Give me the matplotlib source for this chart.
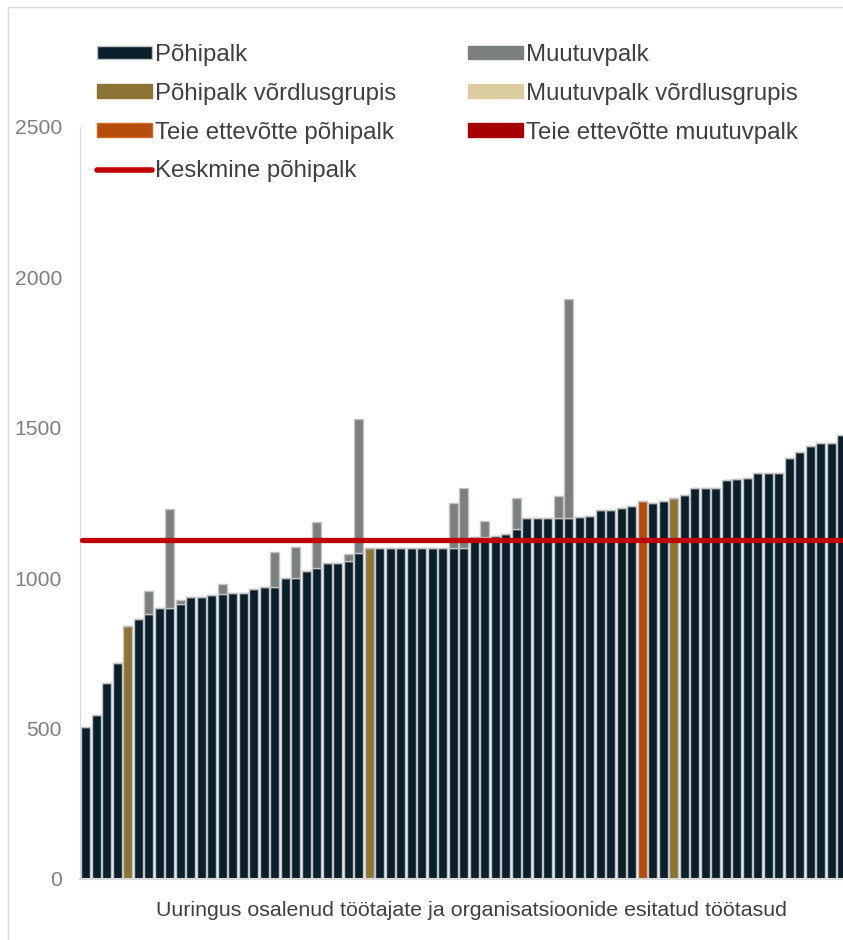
import matplotlib.pyplot as plt
from matplotlib.lines import Line2D
from matplotlib.patches import Patch, Rectangle
import numpy as np

# põhipalk per vastaja (sorted), muutuvpalk on top of it
base_pay = [505, 545, 650, 717, 842, 864, 880, 902, 902, 914,
            936, 936, 944, 946, 950, 950, 965, 972, 972, 1000,
            1000, 1024, 1035, 1052, 1052, 1058, 1085, 1100, 1100, 1100,
            1100, 1100, 1100, 1100, 1100, 1100, 1100, 1138, 1138, 1141,
            1146, 1163, 1200, 1200, 1200, 1200, 1200, 1203, 1206, 1227,
            1227, 1232, 1239, 1256, 1251, 1258, 1268, 1275, 1300, 1300,
            1300, 1325, 1331, 1333, 1351, 1351, 1351, 1401, 1421, 1441,
            1448, 1451, 1476]
variable_pay = [0, 0, 0, 0, 0, 0, 77, 0, 327, 13,
                0, 0, 0, 35, 0, 0, 0, 0, 116, 0,
                103, 0, 151, 0, 0, 21, 443, 0, 0, 0,
                0, 0, 0, 0, 0, 150, 200, 0, 51, 0,
                0, 105, 0, 0, 0, 73, 728, 0, 0, 0,
                0, 0, 0, 0, 0, 0, 0, 0, 0, 0,
                0, 0, 0, 0, 0, 0, 0, 0, 0, 0,
                0, 0, 0]
# which bars belong to comparison group / your company
comparison_group = [4, 27, 56]
own_company = [53]
average_base = 1127

C_BASE = "#0a1f2c"
C_VAR = "#7b7f80"
C_CMP = "#8c7434"
C_CMP_VAR = "#dccda0"
C_OWN = "#b64c0b"
C_OWN_VAR = "#a60000"
C_AVG = "#c00000"
C_EDGE = "#c3c3c3"

plt.rcParams['font.family'] = ['Liberation Sans', 'DejaVu Sans']

fig = plt.figure(figsize=(8.43, 9.4), dpi=100)
ax = fig.add_axes([80 / 843, 61 / 940, 763 / 843, 752 / 940])

x = np.arange(len(base_pay))
colors = []
for i in range(len(base_pay)):
    if i in comparison_group:
        colors.append(C_CMP)
    elif i in own_company:
        colors.append(C_OWN)
    else:
        colors.append(C_BASE)

ax.bar(x, base_pay, width=0.86, color=colors, edgecolor=C_EDGE, linewidth=1.0, zorder=2)
ax.bar(x, variable_pay, bottom=base_pay, width=0.86, color=C_VAR,
       edgecolor=C_EDGE, linewidth=1.0, zorder=2)
ax.plot([-0.3, len(base_pay) + 1], [average_base, average_base], color=C_AVG,
        linewidth=3.8, solid_capstyle="round", zorder=3)

ax.set_xlim(-0.535, 72.13)
ax.set_ylim(0, 2500)
ax.set_yticks([0, 500, 1000, 1500, 2000, 2500])
ax.set_xticks([])
ax.tick_params(axis="y", length=0, pad=13, labelsize=15.2, labelcolor="#7f7f7f")
for s in ["top", "right"]:
    ax.spines[s].set_visible(False)
ax.spines["left"].set_color("#d9d9d9")
ax.spines["bottom"].set_color("#d9d9d9")
ax.spines["bottom"].set_linewidth(1.5)

fig.text(471 / 843, 1 - 910 / 940, "Uuringus osalenud töötajate ja organisatsioonide esitatud töötasud",
         ha="center", va="center", fontsize=15.4, color="#404040")

handles = [
    Patch(facecolor=C_BASE, edgecolor=C_EDGE, label="Põhipalk"),
    Patch(facecolor=C_CMP, edgecolor=C_CMP, label="Põhipalk võrdlusgrupis"),
    Patch(facecolor=C_OWN, edgecolor="#d0661e", label="Teie ettevõtte põhipalk"),
    Line2D([0], [0], color=C_AVG, linewidth=4, solid_capstyle="round", label="Keskmine põhipalk"),
    Patch(facecolor=C_VAR, edgecolor=C_VAR, label="Muutuvpalk"),
    Patch(facecolor=C_CMP_VAR, edgecolor=C_CMP_VAR, label="Muutuvpalk võrdlusgrupis"),
    Patch(facecolor=C_OWN_VAR, edgecolor=C_OWN_VAR, label="Teie ettevõtte muutuvpalk"),
]
leg = fig.legend(handles=handles, ncol=2, loc="upper left",
                 bbox_to_anchor=(97 / 843, 1 - 44 / 940), frameon=False,
                 fontsize=17.3, handlelength=2.3, handleheight=0.5,
                 handletextpad=0.13, columnspacing=2.96, labelspacing=0.7,
                 borderpad=0, borderaxespad=0)
for t in leg.get_texts():
    t.set_color("#404040")

fig.patches.append(Rectangle((8 / 843, -0.1), 1.2, 1.1 - 7 / 940, transform=fig.transFigure,
                             fill=False, edgecolor="#d9d9d9", linewidth=1.0))

fig.savefig("out.png", dpi=100)
